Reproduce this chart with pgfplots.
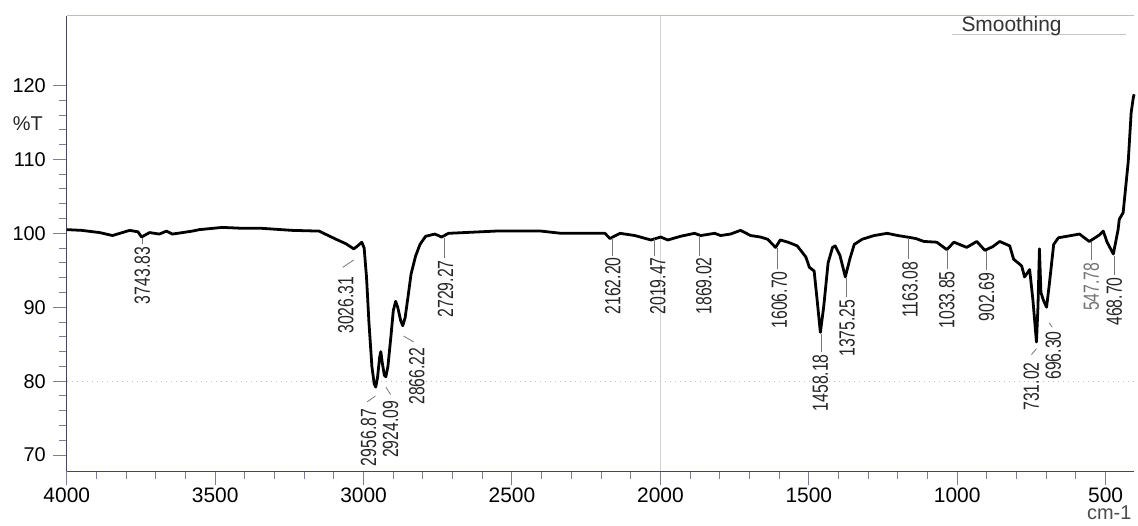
\documentclass[border=0pt]{standalone}
\usepackage{pgfplots}
\pgfplotsset{compat=1.18}
\usepackage{fontspec}
\setmainfont{Liberation Sans}
\newfontfamily\narrowfont[FakeStretch=0.72]{Liberation Sans}

\definecolor{axiscol}{RGB}{70,70,100}
\definecolor{leadcol}{RGB}{120,120,120}

% IR spectrum (wavenumber, %T)
\pgfplotstableread{
w y
4000 100.5
3950 100.4
3889 100.1
3846 99.7
3788 100.4
3760 100.2
3748 99.5
3721 100.1
3688 99.9
3664 100.3
3644 99.9
3610 100.1
3577 100.3
3553 100.5
3476 100.8
3420 100.7
3352 100.7
3241 100.4
3150 100.3
3093 99.2
3060 98.6
3033 97.9
3020 98.3
3006 98.8
2998 98.0
2990 94
2982 88
2972 82
2964 79.6
2959 79.2
2953 80.5
2946 83.2
2942 84.0
2937 82.5
2930 80.8
2925 80.6
2918 82
2908 86
2900 89.5
2892 90.8
2885 90.0
2875 88.2
2868 87.5
2860 88.6
2850 91.5
2840 94.5
2825 96.9
2810 98.5
2791 99.6
2760 99.9
2737 99.5
2714 100
2556 100.3
2402 100.3
2334 100
2187 100
2170 99.3
2136 100
2086 99.7
2032 99.1
1999 99.5
1975 99.1
1932 99.6
1885 100
1864 99.7
1817 100
1797 99.7
1764 99.9
1730 100.4
1696 99.7
1663 99.5
1639 99.2
1612 98.1
1596 99.1
1570 98.8
1539 98.3
1510 96.8
1498 95.4
1482 94.9
1472 91
1461 86.6
1450 90
1435 96
1420 98.1
1411 98.3
1395 97
1377 94.1
1362 96.5
1347 98.5
1320 99.2
1280 99.7
1236 100
1200 99.7
1169 99.5
1140 99.3
1112 98.9
1069 98.8
1035 97.8
1011 98.8
968 98.1
934 98.9
907 97.7
880 98.2
857 98.9
823 98.3
810 96.5
783 95.6
773 94.1
756 95.1
745 91
733 85.3
728 90
723 97.9
718 92
710 91
699 90.0
690 93
675 98.5
659 99.4
588 99.9
555 98.9
520 99.8
508 100.3
495 98.8
474 97.2
458 100.5
454 101.9
441 102.8
424 109.6
414 116.3
407 118.3
404 118.8
}\spectrum

\begin{document}
\begin{tikzpicture}
\begin{axis}[
    scale only axis,
    width=535.5pt, height=228.5pt,
    x dir=reverse,
    xmin=404, xmax=4000,
    ymin=67.8, ymax=129.4,
    axis x line*=bottom,
    axis y line*=left,
    axis line style={axiscol, line width=0.6pt},
    every axis plot/.append style={line join=round},
    xtick={500,1000,...,4000},
    minor x tick num=4,
    ytick={70,80,...,120},
    minor y tick num=4,
    tick align=outside,
    tick style={axiscol!70, line width=0.5pt},
    major tick length=7pt,
    minor tick length=4pt,
    /pgf/number format/assume math mode=true,
    /pgf/number format/set thousands separator={},
    xticklabel style={font=\fontsize{10.5}{12}\selectfont, yshift=2.5pt},
    yticklabel style={font=\fontsize{10}{12}\selectfont},
    clip=false,
]
% faint grid remnants of the scan
\draw[gray!35, line width=0.4pt] (axis cs:2000,67.8) -- (axis cs:2000,129.4);
\draw[gray!50, dotted, line width=0.5pt] (axis cs:4000,80) -- (axis cs:404,80);
\draw[axiscol!35, line width=0.5pt] (axis cs:4000,129.4) -- (axis cs:404,129.4);

\addplot[black, line width=1.4pt, sharp plot] table[x=w, y=y] {\spectrum};

% peak labels
\tikzset{pk/.style={font=\narrowfont\fontsize{11}{11}\selectfont, rotate=90, anchor=east, inner sep=0pt, text=black!85}}
\tikzset{ld/.style={leadcol, line width=0.4pt}}
\draw[ld] (axis cs:3745,99.3) -- (axis cs:3745,98.5);
\node[pk] at (axis cs:3745,98.2) {3743.83};
\draw[ld] (axis cs:3033,96.4) -- (axis cs:3070,95.4);
\node[pk] at (axis cs:3060,94.2) {3026.31};
\draw[ld] (axis cs:2729,99.4) -- (axis cs:2729,96.7);
\node[pk] at (axis cs:2724,96.4) {2729.27};
\draw[ld] (axis cs:2960,78.0) -- (axis cs:2988,77.2);
\node[pk] at (axis cs:2983,76.3) {2956.87};
\draw[ld] (axis cs:2925,79.2) -- (axis cs:2909,78.2);
\node[pk] at (axis cs:2909,77.4) {2924.09};
\draw[ld] (axis cs:2865,86.1) -- (axis cs:2831,85.3);
\node[pk] at (axis cs:2821,84.6) {2866.22};
\draw[ld] (axis cs:2162,99.3) -- (axis cs:2162,97.0);
\node[pk] at (axis cs:2160,96.8) {2162.20};
\draw[ld] (axis cs:2019,99.2) -- (axis cs:2019,97.0);
\node[pk] at (axis cs:2009,96.8) {2019.47};
\draw[ld] (axis cs:1869,99.7) -- (axis cs:1869,97.0);
\node[pk] at (axis cs:1854,96.8) {1869.02};
\draw[ld] (axis cs:1606,98.0) -- (axis cs:1606,95.2);
\node[pk] at (axis cs:1599,94.9) {1606.70};
\draw[ld] (axis cs:1458,86.4) -- (axis cs:1458,84.0);
\node[pk] at (axis cs:1461,83.7) {1458.18};
\draw[ld] (axis cs:1375,94.0) -- (axis cs:1375,91.4);
\node[pk] at (axis cs:1371,91.1) {1375.25};
\draw[ld] (axis cs:1163,99.4) -- (axis cs:1163,96.5);
\node[pk] at (axis cs:1159,96.2) {1163.08};
\draw[ld] (axis cs:1033,97.7) -- (axis cs:1033,95.2);
\node[pk] at (axis cs:1035,94.9) {1033.85};
\draw[ld] (axis cs:902,97.6) -- (axis cs:902,95.0);
\node[pk] at (axis cs:901,94.7) {902.69};
\draw[ld] (axis cs:733,84.4) -- (axis cs:750,83.6);
\node[pk] at (axis cs:750,82.6) {731.02};
\draw[ld] (axis cs:690,87.9) -- (axis cs:680,87.3);
\node[pk] at (axis cs:676,86.8) {696.30};
\draw[ld] (axis cs:548,98.8) -- (axis cs:548,96.4);
\node[pk, text=black!55] at (axis cs:548,96.1) {547.78};
\draw[ld] (axis cs:469,97.0) -- (axis cs:469,94.4);
\node[pk] at (axis cs:471,94.1) {468.70};
\end{axis}

% texts around the axis (1px = 0.5pt, origin at the axis corner)
\node[font=\fontsize{10}{12}\selectfont, text=black!85] at (-19.5pt,174.5pt) {\%T};
\node[font=\fontsize{10}{12}\selectfont, text=black!70] at (523pt,-20.5pt) {cm-1};
\draw[gray!45, line width=0.5pt] (444pt,219pt) -- (531.5pt,219pt);
\node[font=\fontsize{10.5}{12}\selectfont, text=black!80] at (474pt,223.5pt) {Smoothing};
\path[use as bounding box] (-33.5pt,-24.5pt) rectangle (535.5pt,236.5pt);
\end{tikzpicture}
\end{document}
